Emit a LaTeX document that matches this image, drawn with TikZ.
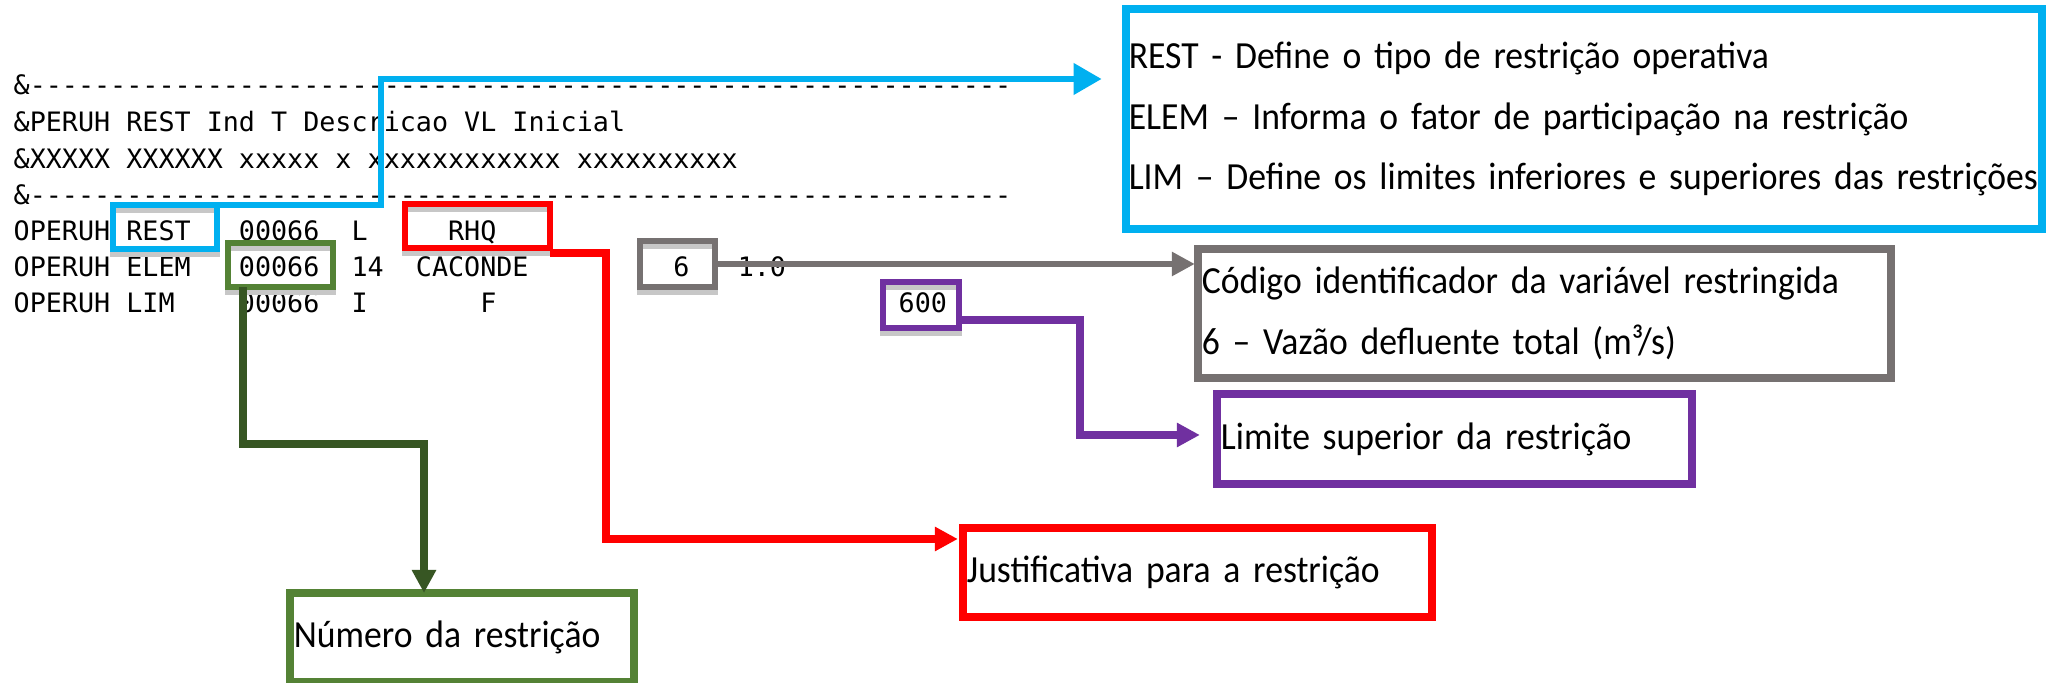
\documentclass[tikz,border=0pt]{standalone}
\usepackage{fontspec}
\setmainfont{Carlito}[FakeStretch=0.93]
\setmonofont{DejaVu Sans Mono}
\usepackage{tikz}
\usetikzlibrary{arrows.meta}
\definecolor{opcyan}{HTML}{00B0F0}
\definecolor{opgray}{HTML}{767171}
\definecolor{opred}{HTML}{FF0000}
\definecolor{oppurple}{HTML}{7030A0}
\definecolor{opgreen}{HTML}{548235}
\definecolor{opdkgreen}{HTML}{375623}
\tikzset{
  oplist/.style={anchor=base west, inner sep=0pt, font=\ttfamily\fontsize{7.6pt}{10pt}\selectfont},
  optoken/.style={draw, line width=0.065cm, inner sep=0pt, outer sep=0pt, minimum height=0.44cm,
    preaction={draw=black!22, transform canvas={yshift=-0.05cm}}},
  opnote/.style={draw, line width=0.08cm, align=left, inner xsep=0.04cm, inner ysep=0pt, outer sep=0pt,
    font=\fontsize{10.9pt}{17.2pt}\selectfont},
  oplink/.style={line width=0.075cm, -{Triangle[length=0.23cm,width=0.23cm]}}
}
\begin{document}
\begin{tikzpicture}[x=0.01cm, y=-0.01cm]
\path[use as bounding box, fill=white] (0,0) rectangle (2046,683);
\node[oplist] (row1) at (13,95) {\&-------------------------------------------------------------};
\node[oplist] (row2) at (13,132) {\&PERUH REST Ind T Descricao VL Inicial};
\node[oplist] (row3) at (13,169) {\&XXXXX XXXXXX xxxxx x xxxxxxxxxxxx xxxxxxxxxx};
\node[oplist] (row4) at (13,205) {\&-------------------------------------------------------------};
\node[oplist] (row5) at (13,241) {OPERUH~REST~~~00066~~L~~~~~RHQ};
\node[oplist] (row6) at (13,277) {OPERUH~ELEM~~~00066~~14~~CACONDE~~~~~~~~~6~~~1.0};
\node[oplist] (row7) at (13,313) {OPERUH~LIM~~~~00066~~I~~~~~~~F~~~~~~~~~~~~~~~~~~~~~~~~~600};
\node[optoken, draw=opcyan, minimum width=1.04cm] (restbox) at (165,227) {};
\node[optoken, draw=opgreen, minimum width=1.05cm] (numbox) at (280.5,265) {};
\node[optoken, draw=opred, minimum width=1.45cm] (rhqbox) at (477.5,226) {};
\node[optoken, draw=opgray, minimum width=0.75cm, minimum height=0.46cm] (varbox) at (677.5,264) {};
\node[optoken, draw=oppurple, minimum width=0.76cm, minimum height=0.46cm] (supbox) at (921,305) {};
\node[opnote, draw=opcyan, inner xsep=0.03cm, text width=9.10cm, minimum height=2.20cm] (restinfo) at (1584,119)
  {REST - Define o tipo de restrição operativa\\ELEM – Informa o fator de participação na restrição\\LIM – Define os limites inferiores e superiores das restrições};
\node[opnote, draw=opgray, text width=6.85cm, minimum height=1.29cm] (varinfo) at (1544.5,313.5)
  {Código identificador da variável restringida\\6 – Vazão defluente total (m³/s)};
\node[opnote, draw=oppurple, text width=4.67cm, minimum height=0.90cm] (supinfo) at (1454.5,439) {Limite superior da restrição};
\node[opnote, draw=opred, text width=4.61cm, minimum height=0.89cm] (justinfo) at (1197.5,572.5) {Justificativa para a restrição};
\node[opnote, draw=opgreen, text width=3.36cm, minimum height=0.89cm] (numinfo) at (462,637.5) {Número da restrição};
\coordinate (restturn) at (381,79);
\coordinate (numturn) at (424,444);
\coordinate (justturn) at (606,539);
\coordinate (supturn) at (1080,435);
\draw[oplink, draw=opcyan, line width=0.067cm, -{Triangle[length=0.28cm,width=0.30cm]}, shorten >=0.24cm]
  (restbox.north east) -| (restturn) -- (restturn -| restinfo.west);
\draw[oplink, draw=opgray, line width=0.065cm, shorten >=0.03cm] (varbox.east) -- (varbox.east -| varinfo.west);
\draw[oplink, draw=oppurple, shorten >=0.17cm] ([yshift=0.08cm]supbox.south east) -| (supturn) -- (supturn -| supinfo.west);
\draw[oplink, draw=opred, line width=0.08cm, shorten >=0.05cm] ([yshift=-0.05cm]rhqbox.south east) -| (justturn) -- (justturn -| justinfo.west);
\draw[oplink, draw=opdkgreen, line width=0.08cm] ([xshift=0.15cm]numbox.south west) |- (numturn) -- (numturn |- numinfo.north);
\end{tikzpicture}
\end{document}
